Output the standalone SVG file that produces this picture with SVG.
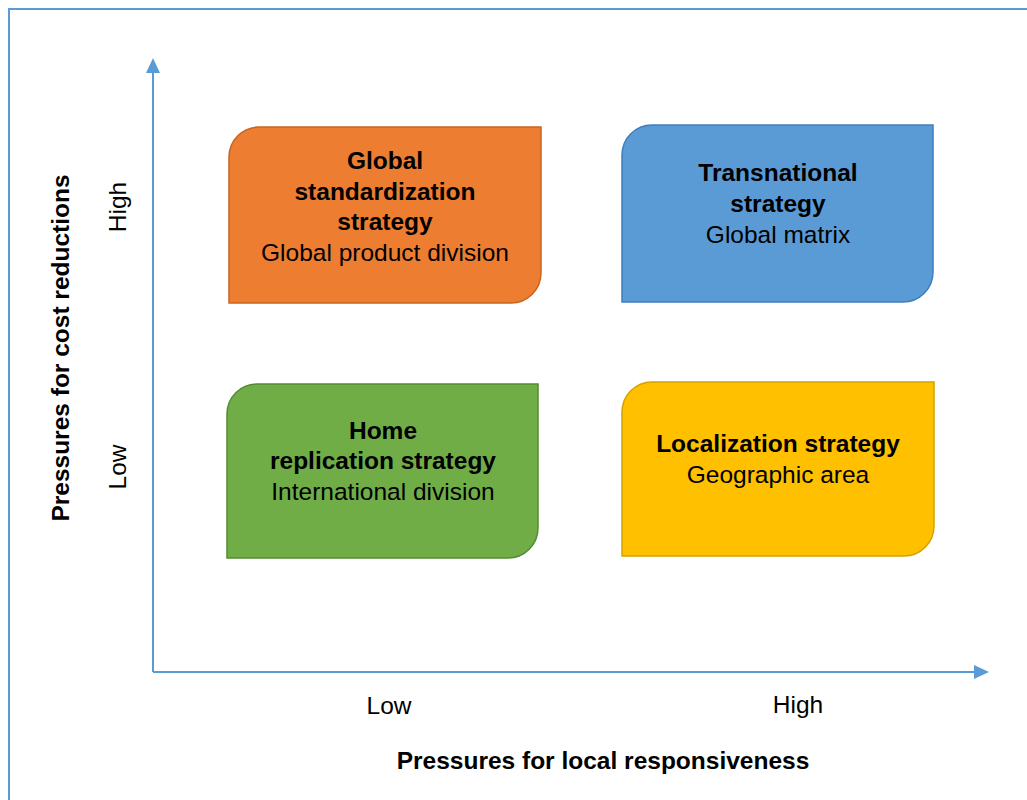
<svg xmlns="http://www.w3.org/2000/svg" width="1027" height="800" viewBox="0 0 1027 800">
<style>
text{font-family:"Liberation Sans",Arial,sans-serif;fill:#000;font-size:24.5px}
.b{font-weight:bold}
.c{text-anchor:middle}
.ax{stroke:#5B9BD5;stroke-width:2;fill:none}
.box{stroke-width:1.5}
</style>
<defs>
<marker id="arr" markerWidth="8" markerHeight="8" refX="7" refY="4" orient="auto" markerUnits="userSpaceOnUse" viewBox="0 0 8 8">
<path d="M0,0 L8,4 L0,8 Z" fill="#5B9BD5"/>
</marker>
</defs>
<rect width="1027" height="800" fill="#fff"/>
<g id="frame">
<path d="M9,800 V9 H1027" stroke="#5B9BD5" stroke-width="2" fill="none"/>
</g>
<g id="connectors">
<path class="ax" d="M153,672 V73"/>
<path d="M146,73 L153,58 L160,73 Z" fill="#5B9BD5"/>
<path class="ax" d="M153,672 H974"/>
<path d="M974,665 L989,672 L974,679 Z" fill="#5B9BD5"/>
</g>
<g id="y-axis-labels">
<text class="b c" transform="translate(69,348) rotate(-90)">Pressures for cost reductions</text>
<text class="c" transform="translate(126,207) rotate(-90)">High</text>
<text class="c" transform="translate(126,467) rotate(-90)">Low</text>
</g>
<g id="x-axis-labels">
<text class="c" x="389" y="714">Low</text>
<text class="c" x="798" y="713">High</text>
<text class="b c" x="603" y="769">Pressures for local responsiveness</text>
</g>
<g id="global">
<path class="box" d="M259,127 H541 V273 A30,30 0 0 1 511,303 H229 V157 A30,30 0 0 1 259,127 Z" fill="#ED7D31" stroke="#C9651F"/>
<text class="b c" x="385" y="169">Global</text>
<text class="b c" x="385" y="200">standardization</text>
<text class="b c" x="385" y="230">strategy</text>
<text class="c" x="385" y="261">Global product division</text>
</g>
<g id="transnational">
<path class="box" d="M652,125 H933 V272 A30,30 0 0 1 903,302 H622 V155 A30,30 0 0 1 652,125 Z" fill="#5B9BD5" stroke="#3F7DBE"/>
<text class="b c" x="778" y="181">Transnational</text>
<text class="b c" x="778" y="212">strategy</text>
<text class="c" x="778" y="243">Global matrix</text>
</g>
<g id="home">
<path class="box" d="M257,384 H538 V528 A30,30 0 0 1 508,558 H227 V414 A30,30 0 0 1 257,384 Z" fill="#70AD47" stroke="#548A33"/>
<text class="b c" x="383" y="439">Home</text>
<text class="b c" x="383" y="469">replication strategy</text>
<text class="c" x="383" y="500">International division</text>
</g>
<g id="localization">
<path class="box" d="M652,382 H934 V526 A30,30 0 0 1 904,556 H622 V412 A30,30 0 0 1 652,382 Z" fill="#FFC000" stroke="#D4A200"/>
<text class="b c" x="778" y="452">Localization strategy</text>
<text class="c" x="778" y="483">Geographic area</text>
</g>
</svg>
